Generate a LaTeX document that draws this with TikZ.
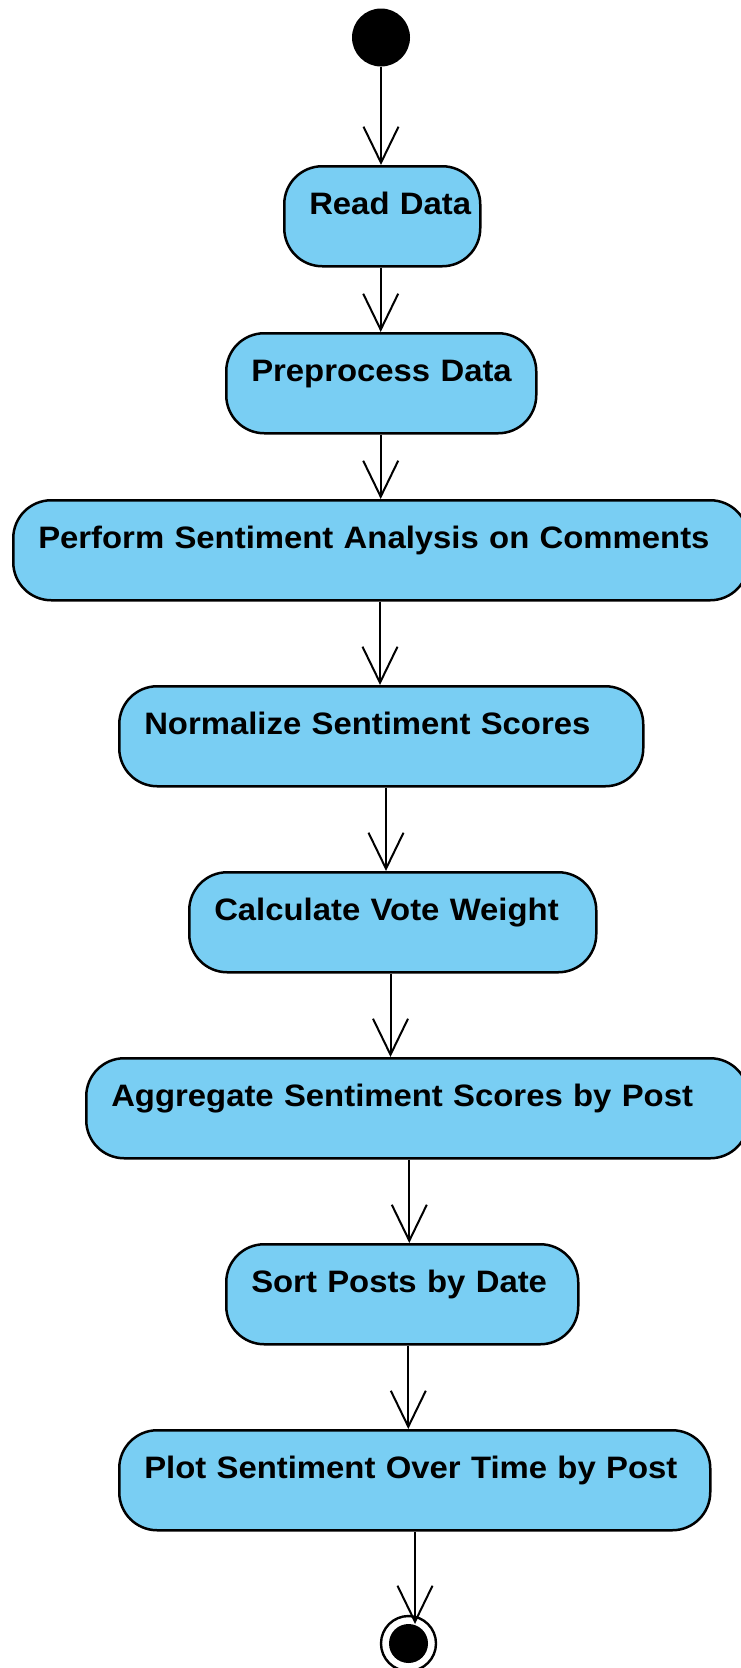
\documentclass[tikz,border=0pt]{standalone}
\usepackage{fontspec}
\newfontfamily\actfont{Liberation Sans}[FakeStretch=1.06]
\usetikzlibrary{arrows.meta}
\definecolor{actblue}{RGB}{121,206,243}
\begin{document}
\begin{tikzpicture}[x=1pt,y=-1pt,
  act/.style={draw=black, line width=2.5pt, fill=actblue, rounded corners=38pt,
    anchor=north west, inner xsep=0pt, inner ysep=0pt, minimum height=100pt,
    text height=48pt, text depth=52pt, align=left,
    font=\actfont\bfseries\fontsize{31}{36}\selectfont},
  flow/.style={line width=2pt, -{Straight Barb[length=36pt,width=35pt]}},
  initial/.style={circle, fill=black, minimum size=58pt, inner sep=0pt},
  final/.style={circle, draw=black, line width=2.4pt, minimum size=55pt, inner sep=0pt,
    path picture={\fill[black] (path picture bounding box.center) circle (19.5pt);}},
]
\useasboundingbox (0,0) rectangle (741,1668);
\clip (0,0) rectangle (741,1668);

% start and end states
\node[initial] (start) at (381,37.5) {};
\node[final] (final) at (408.5,1643.5) {};

% activities
\node[act, text width=196pt] (read) at (283,165) {\hspace*{25pt}Read Data};
\node[act, text width=310pt] (prep) at (225,332) {\hspace*{25pt}Preprocess Data};
\node[act, text width=735pt] (perf) at (12,499) {\hspace*{25pt}Perform Sentiment Analysis on Comments};
\node[act, text width=524pt] (norm) at (118,685) {\hspace*{25pt}Normalize Sentiment Scores};
\node[act, text width=407pt] (calc) at (188,871) {\hspace*{25pt}Calculate Vote Weight};
\node[act, text width=662pt] (agg) at (85,1057) {\hspace*{25pt}Aggregate Sentiment Scores by Post};
\node[act, text width=352pt] (sort) at (225,1243) {\hspace*{25pt}Sort Posts by Date};
\node[act, text width=591pt] (plot) at (118,1429) {\hspace*{25pt}Plot Sentiment Over Time by Post};

% columns of the connectors
\coordinate (c2) at (380.7,0);
\coordinate (c3) at (380.7,0);
\coordinate (c4) at (380,0);
\coordinate (c5) at (386,0);
\coordinate (c6) at (390.5,0);
\coordinate (c7) at (409.3,0);
\coordinate (c8) at (408.3,0);
\coordinate (endtip) at (415,1624);

% control flow
\draw[flow] (start.south) -- (read.north -| start.south);
\draw[flow] (read.south -| c2) -- (prep.north -| c2);
\draw[flow] (prep.south -| c3) -- (perf.north -| c3);
\draw[flow] (perf.south -| c4) -- (norm.north -| c4);
\draw[flow] (norm.south -| c5) -- (calc.north -| c5);
\draw[flow] (calc.south -| c6) -- (agg.north -| c6);
\draw[flow] (agg.south -| c7) -- (sort.north -| c7);
\draw[flow] (sort.south -| c8) -- (plot.north -| c8);
\draw[flow] (plot.south -| endtip) -- (endtip);
\end{tikzpicture}
\end{document}
